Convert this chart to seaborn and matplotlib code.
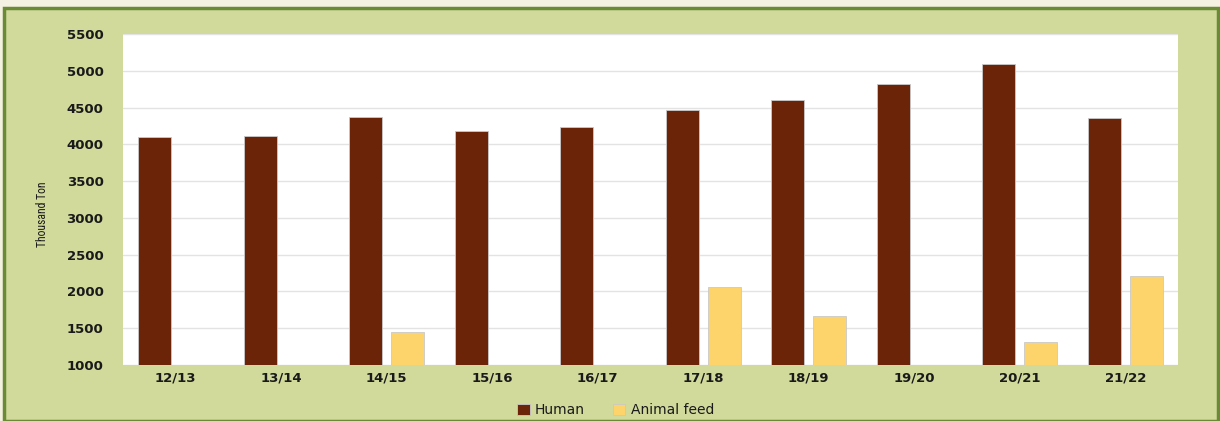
import matplotlib
matplotlib.use("Agg")
import matplotlib.pyplot as plt
import seaborn as sns
import pandas as pd
from matplotlib.patches import Rectangle
from matplotlib import font_manager

seasons = ["12/13", "13/14", "14/15", "15/16", "16/17", "17/18", "18/19", "19/20", "20/21", "21/22"]
human = [4100, 4120, 4370, 4185, 4240, 4465, 4600, 4820, 5090, 4355]
animal_feed = [0, 0, 1450, 0, 0, 2055, 1670, 0, 1315, 2210]
series_names = ["Human", "Animal feed"]
yticks = [1000, 1500, 2000, 2500, 3000, 3500, 4000, 4500, 5000, 5500]

df = pd.DataFrame({
    "Season": seasons * 2,
    "Value": human + animal_feed,
    "Use": [series_names[0]] * len(seasons) + [series_names[1]] * len(seasons),
})

sns.set_theme(style="white")
plt.rcParams["font.family"] = ["DejaVu Sans"]

names = {f.name for f in font_manager.fontManager.ttflist}
narrow = [n for n in ["Liberation Sans Narrow", "DejaVu Sans Condensed", "Roboto Condensed"] if n in names]
narrow_family = narrow + ["DejaVu Sans"]

fig = plt.figure(figsize=(12.2, 4.21), dpi=100)
fig.patch.set_facecolor("#f4f1e2")
W, H = 1220, 421
# green frame
fig.patches.append(Rectangle((4 / W, 0), (1214) / W, (H - 8) / H, transform=fig.transFigure,
                             facecolor="#d1d99b", edgecolor="#6a8a35", linewidth=2.5, zorder=-10))

ax = fig.add_axes([123 / W, 1 - 365 / H, (1178 - 123) / W, (365 - 34) / H])
ax.set_zorder(5)
ax.set_facecolor("white")
palette = {"Human": "#6b2408", "Animal feed": "#fdd46c"}
sns.barplot(data=df, x="Season", y="Value", hue="Use", palette=palette, ax=ax,
            gap=0.22, width=0.8, saturation=1, edgecolor="#c9c9c9", linewidth=0.6, legend=True)

ax.set_ylim(1000, 5500)
ax.set_xlim(-0.5, len(seasons) - 0.5)
ax.set_yticks(yticks)
ax.set_yticklabels([str(v) for v in yticks])
ax.yaxis.grid(True, color="#e3e3e3", linewidth=1)
ax.set_axisbelow(True)
for s in ax.spines.values():
    s.set_visible(False)
ax.tick_params(axis="both", length=0, colors="#1a1a1a", labelsize=9.5)
ax.tick_params(axis="x", pad=5)
ax.tick_params(axis="y", pad=14)
for lbl in ax.get_xticklabels() + ax.get_yticklabels():
    lbl.set_fontweight("semibold")
ax.set_xlabel("")
ax.set_ylabel("Thousand Ton", family=narrow_family, fontstretch="condensed", fontsize=8.5,
              color="#1a1a1a")
ax.yaxis.set_label_coords(-0.07, 0.455)

leg = ax.legend(loc="upper center", bbox_to_anchor=(0.467, -0.078), ncol=2, frameon=False,
                fontsize=10, handlelength=0.9, handleheight=0.8, columnspacing=2.0, handletextpad=0.4)
for t in leg.get_texts():
    t.set_color("#1a1a1a")

fig.savefig("out.png", dpi=100, facecolor=fig.get_facecolor())
